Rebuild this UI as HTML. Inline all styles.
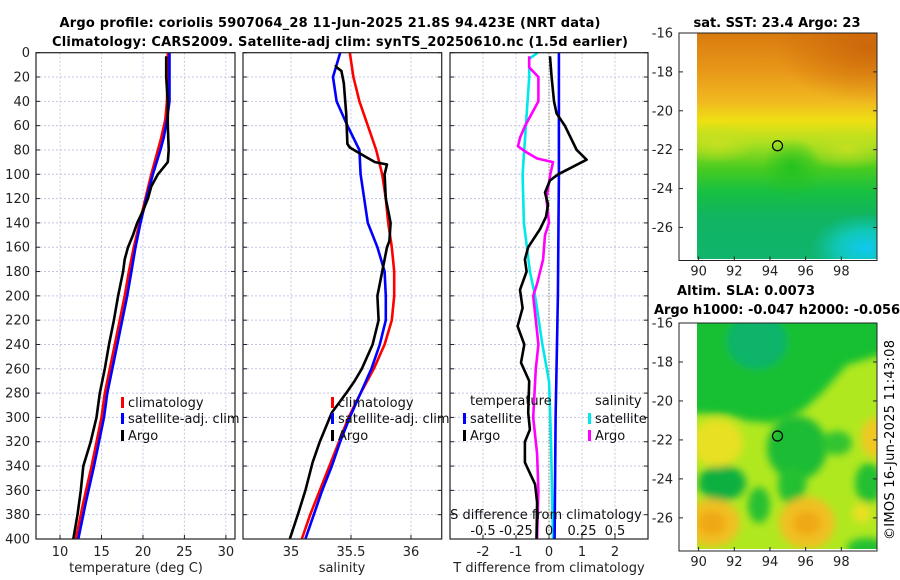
<!DOCTYPE html>
<html><head><meta charset="utf-8"><style>
html,body{margin:0;padding:0;background:#fff;}
svg{display:block;font-family:"DejaVu Sans","Liberation Sans",sans-serif;}
</style></head><body>
<svg id="c" width="900" height="580" viewBox="0 0 900 580" xmlns="http://www.w3.org/2000/svg">
<defs>
<linearGradient id="sstg" x1="0" y1="0" x2="0" y2="1">
<stop offset="0" stop-color="#d97a10"/><stop offset="0.17" stop-color="#e89818"/><stop offset="0.3" stop-color="#f0b820"/><stop offset="0.39" stop-color="#eee012"/><stop offset="0.48" stop-color="#b0e020"/><stop offset="0.6" stop-color="#48cc20"/><stop offset="0.7" stop-color="#18c040"/><stop offset="0.82" stop-color="#10b462"/><stop offset="1" stop-color="#10b46c"/>
</linearGradient>
<radialGradient id="sstTR"><stop offset="0" stop-color="#c86008" stop-opacity="0.8"/><stop offset="1" stop-color="#c86008" stop-opacity="0"/></radialGradient>
<radialGradient id="sstCy"><stop offset="0" stop-color="#10c8f0"/><stop offset="0.5" stop-color="#10d0d8" stop-opacity="0.7"/><stop offset="1" stop-color="#10c8c0" stop-opacity="0"/></radialGradient>
<radialGradient id="sstY"><stop offset="0" stop-color="#c8e020" stop-opacity="0.9"/><stop offset="1" stop-color="#c8e020" stop-opacity="0"/></radialGradient>
<radialGradient id="sstG"><stop offset="0" stop-color="#20c020" stop-opacity="0.9"/><stop offset="1" stop-color="#20c020" stop-opacity="0"/></radialGradient>
<filter id="blur" x="-10%" y="-10%" width="120%" height="120%"><feGaussianBlur stdDeviation="4"/></filter>
</defs>
<g id="titles" font-weight="bold" font-size="13">
<text x="330" y="27" text-anchor="middle" textLength="541">Argo profile: coriolis 5907064_28 11-Jun-2025 21.8S 94.423E (NRT data)</text>
<text x="340" y="46" text-anchor="middle" textLength="576">Climatology: CARS2009. Satellite-adj clim: synTS_20250610.nc (1.5d earlier)</text>
<text x="777" y="27" text-anchor="middle" textLength="167">sat. SST: 23.4 Argo: 23</text>
<text x="677" y="295" textLength="138">Altim. SLA: 0.0073</text>
<text x="654" y="314" textLength="246">Argo h1000: -0.047 h2000: -0.056</text>
</g>
<text x="0" y="0" font-size="13" text-anchor="middle" transform="translate(894,440) rotate(-90)" textLength="200">©IMOS 16-Jun-2025 11:43:08</text>

<!-- SST map -->
<g>
<svg x="697" y="33" width="180" height="226" viewBox="0 0 180 226" preserveAspectRatio="none">
<rect width="180" height="226" fill="url(#sstg)"/>
<ellipse cx="170" cy="15" rx="90" ry="55" fill="url(#sstTR)"/>
<ellipse cx="150" cy="115" rx="45" ry="22" fill="url(#sstY)"/>
<ellipse cx="20" cy="110" rx="40" ry="20" fill="url(#sstY)"/>
<ellipse cx="95" cy="135" rx="30" ry="30" fill="url(#sstG)"/>
<ellipse cx="168" cy="215" rx="55" ry="35" fill="url(#sstCy)"/>
</svg>
<rect x="679" y="33" width="198" height="227.5" fill="none" stroke="#222" stroke-width="1"/>
</g>
<!-- SLA map -->
<g>
<svg x="697" y="323" width="180" height="226" viewBox="0 0 180 226" preserveAspectRatio="none">
<rect width="180" height="226" fill="#b0e820"/>
<g filter="url(#blur)">
<polygon points="-10,-10 190,-10 190,30 150,42 125,70 105,88 75,100 50,98 30,92 -10,90" fill="#18c030"/>
<ellipse cx="60" cy="18" rx="30" ry="28" fill="#10b46a"/>
<ellipse cx="100" cy="125" rx="30" ry="32" fill="#1cbc34"/>
<ellipse cx="95" cy="162" rx="14" ry="20" fill="#20c030"/>
<ellipse cx="140" cy="120" rx="15" ry="12" fill="#30c430"/>
<ellipse cx="25" cy="160" rx="24" ry="18" fill="#10b040"/>
<ellipse cx="62" cy="182" rx="11" ry="18" fill="#28c030"/>
<ellipse cx="172" cy="160" rx="14" ry="20" fill="#20c030"/>
<ellipse cx="170" cy="225" rx="20" ry="10" fill="#20c030"/>
<ellipse cx="20" cy="120" rx="26" ry="24" fill="#e8e020"/>
<ellipse cx="15" cy="200" rx="28" ry="24" fill="#f0c020"/>
<ellipse cx="15" cy="200" rx="14" ry="12" fill="#f0a818"/>
<ellipse cx="110" cy="200" rx="28" ry="26" fill="#f0c020"/>
<ellipse cx="110" cy="200" rx="14" ry="12" fill="#f0a818"/>
<ellipse cx="178" cy="115" rx="14" ry="20" fill="#f0c820"/>
<ellipse cx="165" cy="190" rx="10" ry="10" fill="#e8e020"/>
</g>
</svg>
<rect x="679" y="323" width="198" height="228" fill="none" stroke="#222" stroke-width="1"/>
</g>
<g id="plots"></g>
</svg>
<script>
// ---- data ----
const depthTClim = [0,40,55,70,80,100,120,140,160,180,200,240,280,300,340,370,400];
const tempClim = [23.0,22.9,22.7,22.2,21.8,21.0,20.3,19.6,18.9,18.3,17.8,16.6,15.4,15.0,13.8,12.8,11.9];
const tempSat = [23.2,23.2,22.9,22.5,22.1,21.2,20.4,19.7,19.1,18.6,18.1,16.9,15.7,15.3,14.1,13.1,12.2];
const depthTArgo = [3,20,40,60,80,90,95,100,110,120,130,140,150,160,170,180,200,220,240,260,280,300,320,340,360,380,400];
const tempArgo = [22.8,22.8,23.0,23.0,23.1,23.0,22.4,21.8,21.0,20.6,20.0,19.3,18.8,18.2,17.8,17.6,17.0,16.5,15.9,15.4,14.8,14.4,13.7,12.8,12.5,12.1,11.6];
const depthSClim = [0,20,40,60,80,100,120,140,160,180,200,220,240,260,280,300,320,340,360,380,400];
const salClim = [35.49,35.52,35.57,35.64,35.71,35.76,35.79,35.81,35.84,35.86,35.86,35.84,35.78,35.69,35.58,35.48,35.40,35.32,35.24,35.16,35.09];
const salSat = [35.41,35.35,35.38,35.47,35.57,35.58,35.61,35.64,35.72,35.78,35.79,35.79,35.74,35.67,35.58,35.49,35.41,35.34,35.26,35.19,35.12];
const depthSArgo = [10,12,15,25,50,75,78,85,90,92,100,120,140,155,160,170,200,220,240,260,270,280,296,320,337,360,379,400];
const salArgo = [35.37,35.38,35.42,35.44,35.46,35.47,35.49,35.61,35.70,35.80,35.78,35.79,35.83,35.82,35.80,35.78,35.72,35.73,35.68,35.59,35.53,35.46,35.34,35.24,35.18,35.12,35.06,34.99];
const depthDSat = [0,100,200,300,400];
const tDiffSat = [0.3,0.3,0.27,0.2,0.17];
const depthDTArgo = [3,20,40,50,60,80,88,95,100,105,115,125,135,145,160,170,180,195,210,225,240,255,270,296,310,320,337,355,370,400];
const tDiffArgo = [0.03,0.08,0.15,0.23,0.48,0.84,1.14,0.64,0.28,0.03,-0.12,-0.03,-0.09,-0.27,-0.63,-0.73,-0.68,-0.88,-0.8,-0.95,-0.75,-0.85,-0.6,-0.63,-0.58,-0.73,-0.73,-0.42,-0.36,-0.38];
const depthDSArgo = [3,12,20,40,50,60,70,77,82,87,90,100,120,140,150,170,190,200,220,240,260,280,300,330,360,400];
const sDiffArgo = [-0.15,-0.15,-0.08,-0.08,-0.13,-0.18,-0.22,-0.235,-0.17,-0.09,0.03,0.01,-0.02,0.0,-0.03,-0.045,-0.09,-0.12,-0.1,-0.08,-0.1,-0.11,-0.12,-0.09,-0.08,-0.09];
const depthDSSat = [0,5,20,60,100,140,180,200,240,270,320,400];
const sDiffSat = [-0.085,-0.15,-0.15,-0.175,-0.2,-0.19,-0.145,-0.105,-0.05,0.0,0.015,0.03];
const depthTicks = [0,20,40,60,80,100,120,140,160,180,200,220,240,260,280,300,320,340,360,380,400];
const tTicks = [10,15,20,25,30];
const sTicks = [35,35.5,36];
const dTTicks = [-2,-1,0,1,2];
const dSTicks = [-0.5,-0.25,0,0.25,0.5];
const dSTickLabels = ['-0.5','-0.25','0','0.25','0.5'];
const lonTicks = [90,92,94,96,98];
const latTicks = [-16,-18,-20,-22,-24,-26];
const argoLon = 94.423, argoLat = -21.8;

// ---- scales ----
const NS='http://www.w3.org/2000/svg';
const root=document.getElementById('plots');
const Y0=52.7, Y1=539;
const yD = d => Y0 + (Y1-Y0)*d/400;
function lin(d0,d1,r0,r1){return v=>r0+(v-d0)*(r1-r0)/(d1-d0);}
const xT = lin(7.1,31.1,36,235);
const xS = lin(34.6,36.256,243,441.7);
const xD = lin(-3,3,450,648);
const xDS = v => xD(v*4);
const mapLon = lin(88.9,100,679,877);
const latTop = lin(-16,-27.7,33,260.5);
const latBot = lin(-16,-27.7,323,551);

function el(tag,attrs,parent){const e=document.createElementNS(NS,tag);for(const k in attrs)e.setAttribute(k,attrs[k]);(parent||root).appendChild(e);return e;}
function txt(s,attrs,parent){const e=el('text',attrs,parent);e.textContent=s;return e;}

const panels=[{x0:36,x1:235,sx:xT,ticks:tTicks,name:'temperature-panel'},{x0:243,x1:441.7,sx:xS,ticks:sTicks,name:'salinity-panel'},{x0:450,x1:648,sx:xD,ticks:dTTicks,name:'difference-panel'}];
panels.forEach(p=>{
  const g=el('g',{});
  
  
  depthTicks.forEach(d=>{
    const l=el('line',{x1:p.x0,x2:p.x1,y1:yD(d),y2:yD(d),stroke:'#c0c6e8','stroke-width':1,'stroke-dasharray':'2,2'},g);
    
    
    el('line',{x1:p.x0,x2:p.x0+4,y1:yD(d),y2:yD(d),stroke:'#222'},g);
    el('line',{x1:p.x1-4,x2:p.x1,y1:yD(d),y2:yD(d),stroke:'#222'},g);
  });
  p.ticks.forEach(t=>{
    const l=el('line',{x1:p.sx(t),x2:p.sx(t),y1:Y0,y2:Y1,stroke:'#c8c8e4','stroke-width':1,'stroke-dasharray':'2,2'},g);
    
    
    el('line',{x1:p.sx(t),x2:p.sx(t),y1:Y1-4,y2:Y1,stroke:'#222'},g);
    const lab=txt(String(t),{x:p.sx(t),y:556,'font-size':13,'text-anchor':'middle',fill:'#222'},g);
    
    
  });
  p.g=g;
});
depthTicks.forEach(d=>{
  const lab=txt(String(d),{x:30,y:yD(d)+4.5,'font-size':13,'text-anchor':'end',fill:'#222'});
  
  
});
// zero line
const z=el('line',{x1:xD(0),x2:xD(0),y1:Y0,y2:Y1,stroke:'#556030','stroke-width':1,'stroke-dasharray':'1,2'});



function series(xs,ds,sx,color,name,w){
  const pts=xs.map((v,i)=>sx(v).toFixed(1)+','+yD(ds[i]).toFixed(1)).join(' ');
  const pl=el('polyline',{points:pts,fill:'none',stroke:color,'stroke-width':w||2.6,'stroke-linejoin':'round'});
  
  
}
series(tempClim,depthTClim,xT,'#ff0000','temp-climatology-line');
series(tempSat,depthTClim,xT,'#0000ff','temp-satellite-line');
series(tempArgo,depthTArgo,xT,'#000000','temp-argo-line');
series(salClim,depthSClim,xS,'#ff0000','sal-climatology-line');
series(salSat,depthSClim,xS,'#0000ff','sal-satellite-line');
series(salArgo,depthSArgo,xS,'#000000','sal-argo-line');
series(sDiffSat,depthDSSat,xDS,'#00e8e8','sdiff-satellite-line');
series(tDiffSat,depthDSat,xD,'#0000ff','tdiff-satellite-line');
series(sDiffArgo,depthDSArgo,xDS,'#ff00ff','sdiff-argo-line');
series(tDiffArgo,depthDTArgo,xD,'#000000','tdiff-argo-line');

// frames
panels.forEach(p=>{
  const r=el('rect',{x:p.x0,y:Y0,width:p.x1-p.x0,height:Y1-Y0,fill:'none',stroke:'#222','stroke-width':1.2});
  
  
});

// legends
function legend(x,y,color,label){
  el('rect',{x:x,y:y-8,width:3,height:11,fill:color});
  const t=txt(label,{x:x+7,y:y+2,'font-size':13,fill:'#111'});
  
  
}
legend(121,405,'#ff0000','climatology');legend(121,421,'#0000ff','satellite-adj. clim');legend(121,438,'#000','Argo');
legend(331,405,'#ff0000','climatology');legend(331,421,'#0000ff','satellite-adj. clim');legend(331,438,'#000','Argo');
txt('temperature',{x:470,y:405,'font-size':13,fill:'#111'});
legend(463,421,'#0000ff','satellite');legend(463,438,'#000','Argo');
txt('salinity',{x:595,y:405,'font-size':13,fill:'#111'});
legend(588,421,'#00e8e8','satellite');legend(588,438,'#ff00ff','Argo');

// axis titles
const a1=txt('temperature (deg C)',{x:136,y:572,'font-size':13,'text-anchor':'middle',fill:'#222'});


const a2=txt('salinity',{x:342,y:572,'font-size':13,'text-anchor':'middle',fill:'#222'});


const a3=txt('T difference from climatology',{x:549,y:572,'font-size':13,'text-anchor':'middle',fill:'#222'});


const a4=txt('S difference from climatology',{x:546,y:519,'font-size':13,'text-anchor':'middle',fill:'#111'});


dSTicks.forEach((s,i)=>{
  const t=txt(dSTickLabels[i],{x:xDS(s),y:535,'font-size':13,'text-anchor':'middle',fill:'#111'});
  
  
});

// map ticks
[[latTop,260.5],[latBot,551]].forEach(([ly,bottom],mi)=>{
  lonTicks.forEach(l=>{
    el('line',{x1:mapLon(l),x2:mapLon(l),y1:bottom-4,y2:bottom,stroke:'#222'});
    const t=txt(String(l),{x:mapLon(l),y:bottom+15,'font-size':13,'text-anchor':'middle',fill:'#222'});
    
    
  });
  latTicks.forEach(l=>{
    el('line',{x1:873,x2:877,y1:ly(l),y2:ly(l),stroke:'#222'});
    el('line',{x1:679,x2:683,y1:ly(l),y2:ly(l),stroke:'#222'});
    const t=txt(String(l),{x:673,y:ly(l)+4.5,'font-size':13,'text-anchor':'end',fill:'#222'});
    
    
  });
  const c=el('circle',{cx:mapLon(argoLon),cy:ly(argoLat),r:5,fill:'none',stroke:'#000','stroke-width':1.2});
  
  
});
</script>
</body></html>
